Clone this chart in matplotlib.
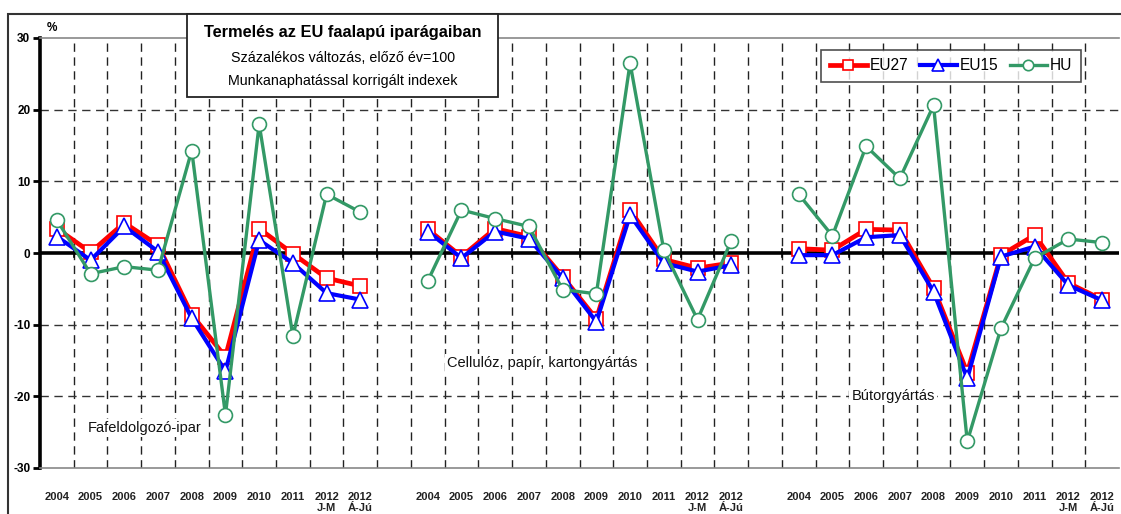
import matplotlib
matplotlib.use("Agg")
import matplotlib.pyplot as plt
from matplotlib.patches import Rectangle
import numpy as np

plt.rcParams['font.family'] = ['Liberation Sans', 'DejaVu Sans']

years = ["2004", "2005", "2006", "2007", "2008", "2009", "2010", "2011", "2012\nJ-M", "2012\nÁ-Jú"]
groups = ["Fafeldolgozó-ipar", "Cellulóz, papír, kartongyártás", "Bútorgyártás"]

# Fafeldolgozó-ipar
eu27_wood = [3.4, 0.1, 4.2, 1.1, -8.6, -14.5, 3.4, -0.1, -3.5, -4.6]
eu15_wood = [2.3, -1.0, 3.7, 0.2, -9.1, -16.5, 1.8, -1.4, -5.6, -6.5]
hu_wood = [4.6, -2.9, -1.9, -2.4, 14.3, -22.6, 18.0, -11.6, 8.2, 5.7]
# Cellulóz, papír, kartongyártás
eu27_paper = [3.3, -0.5, 3.4, 2.3, -3.3, -9.2, 6.0, -0.9, -2.1, -1.4]
eu15_paper = [3.0, -0.7, 3.0, 2.0, -3.5, -9.6, 5.3, -1.4, -2.6, -1.7]
hu_paper = [-3.9, 6.0, 4.8, 3.7, -5.1, -5.7, 26.5, 0.4, -9.3, 1.7]
# Bútorgyártás
eu27_furn = [0.6, 0.4, 3.3, 3.2, -4.9, -16.7, -0.3, 2.5, -4.2, -6.5]
eu15_furn = [-0.3, -0.3, 2.2, 2.5, -5.4, -17.5, -0.5, 0.9, -4.5, -6.6]
hu_furn = [8.2, 2.4, 14.9, 10.4, 20.6, -26.3, -10.5, -0.7, 1.95, 1.45]

eu27 = [eu27_wood, eu27_paper, eu27_furn]
eu15 = [eu15_wood, eu15_paper, eu15_furn]
hu = [hu_wood, hu_paper, hu_furn]

RED = "#ff0000"
BLUE = "#0000ff"
GREEN = "#339966"

fig = plt.figure(figsize=(11.21, 5.14), dpi=100)
ax = fig.add_axes([40 / 1121, 46 / 514, 1079 / 1121, 430 / 514])

n = len(years)
step = n + 1
ticks = []
labels = []
for g in range(3):
    x = np.arange(n) + g * step
    ticks.extend(x)
    labels.extend(years)
    ax.plot(x, eu27[g], color=RED, lw=3.4, marker="s", ms=10.5, mfc="white",
            mec=RED, mew=1.2, zorder=4, label="EU27" if g == 0 else None)
    ax.plot(x, eu15[g], color=BLUE, lw=3.0, marker="^", ms=11, mfc="white",
            mec=BLUE, mew=1.2, zorder=5, label="EU15" if g == 0 else None)
    ax.plot(x, hu[g], color=GREEN, lw=2.4, marker="o", ms=10, mfc="white",
            mec=GREEN, mew=1.2, zorder=6, label="HU" if g == 0 else None)

total = 3 * n + 2
ax.set_xlim(-0.5, total - 0.5)
ax.set_ylim(-30, 30)

# grid
for b in np.arange(0.5, total - 0.5, 1.0):
    ax.axvline(b, color="#222222", lw=1.0, ls=(0, (6, 4)), zorder=1)
    ax.plot([b, b], [0.5, -0.6], color="black", lw=1.2, zorder=3)
for yv in [-20, -10, 10, 20]:
    ax.axhline(yv, color="#333333", lw=1.0, ls=(0, (6, 4)), zorder=1)
ax.axhline(0, color="black", lw=2.6, zorder=3)

ax.set_xticks(ticks)
ax.set_xticklabels(labels, fontsize=8, fontweight="bold", linespacing=1.2, color="#222222")
ax.tick_params(axis="x", length=0, pad=17)
ax.set_yticks([-30, -20, -10, 0, 10, 20, 30])
ax.set_yticklabels(["-30", "-20", "-10", "0", "10", "20", "30"], fontsize=8.5, fontweight="bold")
ax.tick_params(axis="y", length=5, width=2, direction="out", pad=2)

for s in ["top", "bottom", "right"]:
    ax.spines[s].set_color("#888888")
    ax.spines[s].set_linewidth(1.2)
ax.spines["right"].set_visible(False)
ax.spines["left"].set_color("black")
ax.spines["left"].set_linewidth(2.6)

# group labels
box = dict(facecolor="white", edgecolor="none", pad=1.5)
ax.text(2.6, -24.4, groups[0], fontsize=10.5, ha="center", va="center", color="#111111", bbox=box, zorder=7)
ax.text(14.4, -15.3, groups[1], fontsize=10.5, ha="center", va="center", color="#111111", bbox=box, zorder=7)
ax.text(24.8, -19.9, groups[2], fontsize=10.5, ha="center", va="center", color="#111111", bbox=box, zorder=7)

# % label
fig.text(52 / 1121, 1 - 28 / 514, "%", fontsize=8.5, fontweight="bold", ha="center", va="center")

# outer frame
fig.patches.append(Rectangle((8 / 1121, -0.05), 1.2, 1 - 14 / 514 + 0.05, transform=fig.transFigure,
                             fill=False, edgecolor="#333333", lw=1.5, zorder=0))

# title box
fig.patches.append(Rectangle((187 / 1121, 1 - 97 / 514), (498 - 187) / 1121, 83 / 514,
                             transform=fig.transFigure, facecolor="white", edgecolor="#222222",
                             lw=1.3, zorder=10))
fig.text(343 / 1121, 1 - 33 / 514, "Termelés az EU faalapú iparágaiban", fontsize=11.8,
         fontweight="bold", ha="center", va="center", zorder=11)
fig.text(343 / 1121, 1 - 58 / 514, "Százalékos változás, előző év=100", fontsize=10.3,
         ha="center", va="center", zorder=11)
fig.text(343 / 1121, 1 - 81 / 514, "Munkanaphatással korrigált indexek", fontsize=10.3,
         ha="center", va="center", zorder=11)

leg = ax.legend(ncol=3, loc="center", bbox_to_anchor=(951 / 1121, 1 - 66 / 514),
                bbox_transform=fig.transFigure, fontsize=11.2, frameon=True, fancybox=False,
                edgecolor="#222222", handlelength=2.4, handletextpad=0.2, columnspacing=0.7,
                borderpad=0.55, markerscale=0.75)
leg.get_frame().set_linewidth(1.2)
leg.set_zorder(12)

fig.savefig("out.png", dpi=100)
